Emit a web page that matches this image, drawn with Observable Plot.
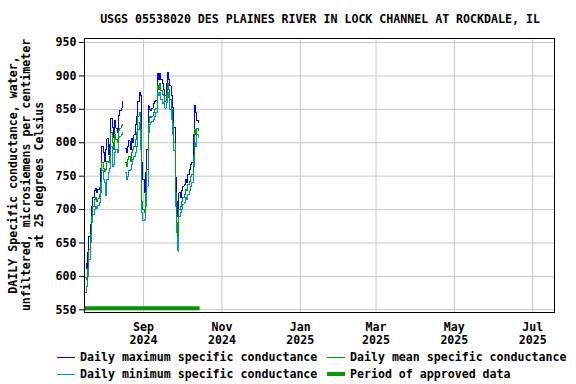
<!DOCTYPE html>
<html><head><meta charset="utf-8">
<script src="https://cdn.jsdelivr.net/npm/d3@7"></script>
<script src="https://cdn.jsdelivr.net/npm/@observablehq/plot@0.6"></script>
<style>
html,body{margin:0;padding:0;background:#fff;}
</style>
</head><body><div id="chart"></div>
<script>
const startDate = "2024-07-18";
const maxSC = [620,612,636,660,678,705,718,728,731,726,
  730,733,762,795,786,772,790,806,783,798,
  836,823,808,833,822,815,841,848,852,861,
  null,791,786,795,803,790,806,800,812,828,
  840,862,875,870,770,745,725,755,790,855,
  850,848,852,858,862,863,903,895,903,895,
  888,880,870,888,905,895,885,870,853,823,
  748,712,690,725,718,728,735,738,745,740,
  752,760,768,770,812,855,845,833,830];
const meanSC = [598,595,612,640,662,690,705,715,718,712,
  716,722,740,770,762,757,760,772,770,780,
  815,800,790,812,805,800,818,822,826,828,
  null,770,765,775,780,772,785,790,795,805,
  815,840,845,820,712,700,695,725,760,830,
  840,838,840,845,850,852,885,880,888,878,
  872,870,862,872,888,880,865,850,830,800,
  725,680,660,700,705,712,718,722,730,728,
  738,742,750,752,780,820,812,822,818];
const minSC = [576,585,600,625,650,680,692,700,705,702,
  706,710,725,758,745,740,721,745,755,762,
  795,765,768,785,790,785,808,810,812,815,
  null,755,745,750,758,760,768,775,780,785,
  795,820,830,790,695,683,685,705,735,815,
  828,830,832,835,840,845,876,870,875,865,
  858,860,852,860,875,868,850,835,812,788,
  705,665,638,690,695,700,708,710,718,715,
  722,728,735,740,765,800,795,812,808];
const approvedPeriod = [{start: "2024-07-17", end: "2024-10-15"}];
const yTicks = [550, 600, 650, 700, 750, 800, 850, 900, 950];
const xTicks = ["2024-09-01","2024-11-01","2025-01-01","2025-03-01","2025-05-01","2025-07-01"];
const xDomain = ["2024-07-17","2025-07-18"];
const yDomain = [546, 956];
const title = "USGS 05538020 DES PLAINES RIVER IN LOCK CHANNEL AT ROCKDALE, IL";
const yLabelLines = ["DAILY Specific conductance, water,", "unfiltered, microsiemens per centimeter", "at 25 degrees Celsius"];
const legendItems = [
  {label: "Daily maximum specific conductance", color: "#0000ff", width: 1},
  {label: "Daily mean specific conductance", color: "#00a000", width: 1},
  {label: "Daily minimum specific conductance", color: "#0090dc", width: 1},
  {label: "Period of approved data", color: "#009900", width: 4}
];

const monthNames = ["Jan","Feb","Mar","Apr","May","Jun","Jul","Aug","Sep","Oct","Nov","Dec"];
const d0 = new Date(startDate + "T00:00:00Z");
const rows = maxSC.map((v, i) => ({date: d3.utcDay.offset(d0, i), max: v, mean: meanSC[i], min: minSC[i]}));
const approved = approvedPeriod.map(d => ({start: new Date(d.start + "T00:00:00Z"), end: new Date(d.end + "T00:00:00Z")}));
const xTickDates = xTicks.map(d => new Date(d + "T00:00:00Z"));
const FONT = "'DejaVu Sans Mono', monospace";

const plot = Plot.plot({
  width: 576, height: 384,
  marginLeft: 84, marginRight: 22, marginTop: 38, marginBottom: 72,
  style: {fontFamily: FONT, fontSize: "11.6px", fontWeight: "bold", background: "white", color: "black", overflow: "visible"},
  x: {type: "utc", domain: xDomain.map(d => new Date(d + "T00:00:00Z")), axis: null},
  y: {domain: yDomain, axis: null},
  marks: [
    Plot.gridX(xTickDates, {stroke: "#c8c8c8", strokeOpacity: 1}),
    Plot.gridY(yTicks, {stroke: "#c8c8c8", strokeOpacity: 1}),
    Plot.ruleY(approved, {x1: "start", x2: "end", y: 552.5, stroke: "#009900", strokeWidth: 4}),
    Plot.line(rows, {x: "date", y: "max", stroke: "#0000ff", strokeWidth: 1, curve: "step", shapeRendering: "crispEdges"}),
    Plot.line(rows, {x: "date", y: "min", stroke: "#0090dc", strokeWidth: 1, curve: "step", shapeRendering: "crispEdges"}),
    Plot.line(rows, {x: "date", y: "mean", stroke: "#00a000", strokeWidth: 1, curve: "step", shapeRendering: "crispEdges"}),
    Plot.frame({stroke: "black", strokeWidth: 1}),
    Plot.axisY(yTicks, {tickSize: 5, tickPadding: 3, label: null, fill: "black", stroke: "black"}),
    Plot.axisX(xTickDates, {tickSize: 0, tickPadding: 9, label: null, lineHeight: 1.15,
      tickFormat: d => monthNames[d.getUTCMonth()] + "\n" + d.getUTCFullYear()})
  ]
});

const svg = d3.select(plot);
svg.append("text").attr("x", 320).attr("y", 23).attr("text-anchor", "middle")
  .attr("font-family", FONT).attr("font-size", "11.6px").attr("font-weight", "bold").attr("fill", "black").text(title);

yLabelLines.forEach((t, i) => {
  svg.append("text").attr("transform", `translate(${17 + i * 13},175) rotate(-90)`)
    .attr("text-anchor", "middle").attr("font-family", FONT).attr("font-size", "11.6px")
    .attr("font-weight", "bold").attr("fill", "black").text(t);
});

const legendPos = [[57, 357], [327, 357], [57, 374], [327, 374]];
legendItems.forEach((item, i) => {
  const [x, y] = legendPos[i];
  svg.append("rect").attr("x", x).attr("y", y - Math.floor(item.width / 2)).attr("width", 18).attr("height", item.width)
    .attr("fill", item.color).attr("stroke", "none");
  svg.append("text").attr("x", x + 23).attr("y", y + 4).attr("text-anchor", "start").attr("font-family", FONT)
    .attr("font-size", "11.6px").attr("font-weight", "bold").attr("fill", "black").text(item.label);
});

document.getElementById("chart").appendChild(plot);
</script>
</body></html>
